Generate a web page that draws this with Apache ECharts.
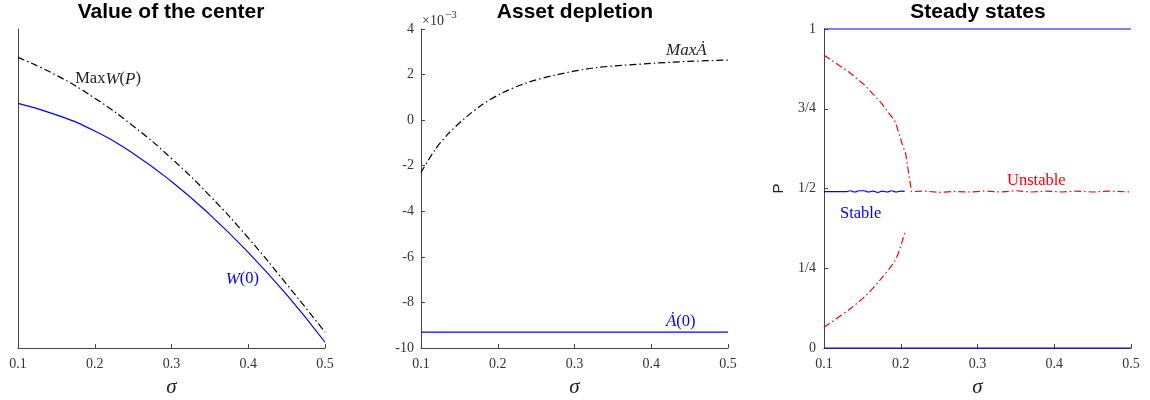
<!DOCTYPE html>
<html>
<head>
<meta charset="utf-8">
<script src="https://cdn.jsdelivr.net/npm/echarts@6/dist/echarts.min.js"></script>
<style>
  html, body { margin: 0; padding: 0; background: #fff; overflow: hidden; }
  #chart { width: 1150px; height: 400px; }
</style>
</head>
<body>
<div id="chart"></div>
<script>
// ---- Panel 1: value of the center ----
const sigmaW    = [0.10, 0.15, 0.20, 0.25, 0.30, 0.35, 0.40, 0.45, 0.50];
const valueMaxW = [0.911, 0.855, 0.783, 0.696, 0.594, 0.477, 0.345, 0.200, 0.050];
const valueW0   = [0.767, 0.731, 0.680, 0.610, 0.522, 0.418, 0.300, 0.167, 0.018];

// ---- Panel 2: asset depletion (units of 1e-3) ----
const sigmaMaxA = [0.100, 0.118, 0.136, 0.157, 0.179, 0.205, 0.236, 0.275, 0.327, 0.400, 0.450, 0.500];
const valueMaxA = [-2.30, -1.31, -0.58, 0.08, 0.66, 1.18, 1.62, 1.98, 2.30, 2.49, 2.58, 2.64];
const sigmaA0   = [0.1, 0.5];
const valueA0   = [-9.30, -9.30];

// ---- Panel 3: steady states ----
const sigmaUpper = [0.100, 0.132, 0.153, 0.175, 0.193, 0.203, 0.206, 0.214,
                    0.230, 0.250, 0.270, 0.290, 0.310, 0.330, 0.350, 0.370, 0.390, 0.410, 0.430, 0.450, 0.470, 0.500];
const valueUpper = [0.918, 0.866, 0.824, 0.767, 0.709, 0.631, 0.615, 0.490,
                    0.492, 0.488, 0.491, 0.489, 0.492, 0.489, 0.493, 0.489, 0.492, 0.489, 0.492, 0.489, 0.492, 0.489];
const sigmaLower = [0.100, 0.132, 0.153, 0.173, 0.193, 0.201, 0.206];
const valueLower = [0.065, 0.119, 0.161, 0.213, 0.276, 0.328, 0.368];
const sigmaStable = [0.100, 0.128, 0.134, 0.140, 0.146, 0.152, 0.158, 0.164, 0.170, 0.176, 0.182, 0.188, 0.194, 0.200, 0.205];
const valueStable = [0.490, 0.490, 0.493, 0.489, 0.493, 0.493, 0.489, 0.492, 0.488, 0.492, 0.489, 0.493, 0.489, 0.492, 0.491];
const sigmaBounds = [0.1, 0.5];
const valueTop    = [1, 1];
const valueBottom = [0, 0];

const xTicks = ['0.1', '0.2', '0.3', '0.4', '0.5'];
const pTickLabels = { 0: '0', 0.25: '1/4', 0.5: '1/2', 0.75: '3/4', 1: '1' };

const pairs = (xs, ys) => xs.map((x, i) => [x, ys[i]]);

const SERIF = '"Liberation Serif", "DejaVu Serif", serif';
const SANS = '"Liberation Sans", Arial, sans-serif';
const AXIS_COLOR = '#444';
const DASHDOT = [7, 3, 1.5, 3];

const gridLefts = [18, 421, 824];
const grids = gridLefts.map(l => ({
  left: l, width: 307, top: 29, height: 319,
  containLabel: false, outerBoundsMode: 'none'
}));

function xAxisFor(i) {
  return {
    type: 'value', gridIndex: i, min: 0.1, max: 0.5, interval: 0.1,
    name: 'σ', nameLocation: 'middle', nameGap: 29,
    nameTextStyle: { fontFamily: SERIF, fontStyle: 'italic', fontSize: 21, color: '#222' },
    axisLine: { show: true, onZero: false, lineStyle: { color: AXIS_COLOR, width: 1 } },
    axisTick: { show: true, inside: true, length: 4, lineStyle: { color: AXIS_COLOR } },
    axisLabel: { fontFamily: SERIF, fontSize: 14, color: '#333', margin: 9,
                 formatter: v => xTicks[Math.round((v - 0.1) * 10)] || '' },
    splitLine: { show: false }
  };
}

const yAxes = [
  { type: 'value', gridIndex: 0, min: 0, max: 1,
    axisLine: { show: true, onZero: false, lineStyle: { color: AXIS_COLOR, width: 1 } },
    axisTick: { show: false }, axisLabel: { show: false }, splitLine: { show: false } },
  { type: 'value', gridIndex: 1, min: -10, max: 4, interval: 2,
    axisLine: { show: true, onZero: false, lineStyle: { color: AXIS_COLOR, width: 1 } },
    axisTick: { show: true, inside: true, length: 4, lineStyle: { color: AXIS_COLOR } },
    axisLabel: { fontFamily: SERIF, fontSize: 14, color: '#333', margin: 7 },
    splitLine: { show: false } },
  { type: 'value', gridIndex: 2, min: 0, max: 1, interval: 0.25,
    name: 'P', nameLocation: 'middle', nameGap: 38,
    nameTextStyle: { fontFamily: SANS, fontSize: 15, color: '#222' },
    axisLine: { show: true, onZero: false, lineStyle: { color: AXIS_COLOR, width: 1 } },
    axisTick: { show: true, inside: true, length: 4, lineStyle: { color: AXIS_COLOR } },
    axisLabel: { fontFamily: SERIF, fontSize: 14, color: '#333', margin: 8,
                 formatter: v => pTickLabels[v] !== undefined ? pTickLabels[v] : '' },
    splitLine: { show: false } }
];

function line(i, data, color, dashed, extra) {
  return Object.assign({
    type: 'line', xAxisIndex: i, yAxisIndex: i, data: data,
    showSymbol: false, symbol: 'none', smooth: 0.3, animation: false,
    lineStyle: { color: color, width: 1.2, type: dashed ? DASHDOT : 'solid' }
  }, extra || {});
}

const series = [
  line(0, pairs(sigmaW, valueMaxW), '#000', true, { smooth: 0.5 }),
  line(0, pairs(sigmaW, valueW0), '#0000ff', false, { smooth: 0.5 }),
  line(1, pairs(sigmaMaxA, valueMaxA), '#000', true),
  line(1, pairs(sigmaA0, valueA0), '#0000ff', false, { smooth: false }),
  line(2, pairs(sigmaUpper, valueUpper), '#ff0000', true, { smooth: false }),
  line(2, pairs(sigmaLower, valueLower), '#ff0000', true, { smooth: 0.3 }),
  line(2, pairs(sigmaStable, valueStable), '#0000ff', false, { smooth: 0.5 }),
  line(2, pairs(sigmaBounds, valueTop), '#0000ff', false, { smooth: false, clip: false }),
  line(2, pairs(sigmaBounds, valueBottom), '#0000ff', false, { smooth: false, clip: false, z: 5 })
];

const titles = [
  { text: 'Value of the center', left: 171 },
  { text: 'Asset depletion', left: 575 },
  { text: 'Steady states', left: 978 }
].map(t => Object.assign(t, {
  top: 2, padding: 0, textAlign: 'center',
  textStyle: { fontFamily: SANS, fontWeight: 'bold', fontSize: 21, color: '#000' }
}));

const chart = echarts.init(document.getElementById('chart'), null, { renderer: 'canvas' });
chart.setOption({
  animation: false,
  title: titles,
  grid: grids,
  xAxis: [0, 1, 2].map(xAxisFor),
  yAxis: yAxes,
  series: series
});

// Curve annotations, anchored in data coordinates of each panel
const annotations = [
  { grid: 0, at: [0.1745, 0.843], color: '#222',
    rich: '{u|Max}{i|W}{u|(}{i|P}{u|)}' },
  { grid: 0, at: [0.3706, 0.216], color: '#0000ff',
    rich: '{i|W}{u|(0)}' },
  { grid: 1, at: [0.4192, 3.05], color: '#222',
    rich: '{i|MaxȦ}' },
  { grid: 1, at: [0.4192, -8.86], color: '#0000ff',
    rich: '{i|Ȧ}{u|(0)}' },
  { grid: 2, at: [0.1208, 0.42], color: '#0000ff',
    rich: '{u|Stable}' },
  { grid: 2, at: [0.3384, 0.523], color: '#ff0000',
    rich: '{u|Unstable}' }
];

const graphics = annotations.map(a => {
  const p = chart.convertToPixel({ gridIndex: a.grid }, a.at);
  return {
    type: 'text', x: p[0], y: p[1], z: 10,
    style: {
      text: a.rich, fill: a.color, verticalAlign: 'middle', align: 'left',
      rich: {
        u: { fontFamily: SERIF, fontSize: 16.5, fill: a.color },
        i: { fontFamily: SERIF, fontSize: 17, fontStyle: 'italic', fill: a.color }
      }
    }
  };
});

// Exponent marker of the asset-depletion axis
const expPos = chart.convertToPixel({ gridIndex: 1 }, [0.1, 4]);
graphics.push({
  type: 'text', x: expPos[0] + 1, y: expPos[1] - 8, z: 10,
  style: { text: '×10', verticalAlign: 'middle', align: 'left',
           fontFamily: SERIF, fontSize: 14, fill: '#333' }
});
graphics.push({
  type: 'text', x: expPos[0] + 24, y: expPos[1] - 14, z: 10,
  style: { text: '−3', verticalAlign: 'middle', align: 'left',
           fontFamily: SERIF, fontSize: 11, fill: '#333' }
});

chart.setOption({ graphic: graphics });
</script>
</body>
</html>
